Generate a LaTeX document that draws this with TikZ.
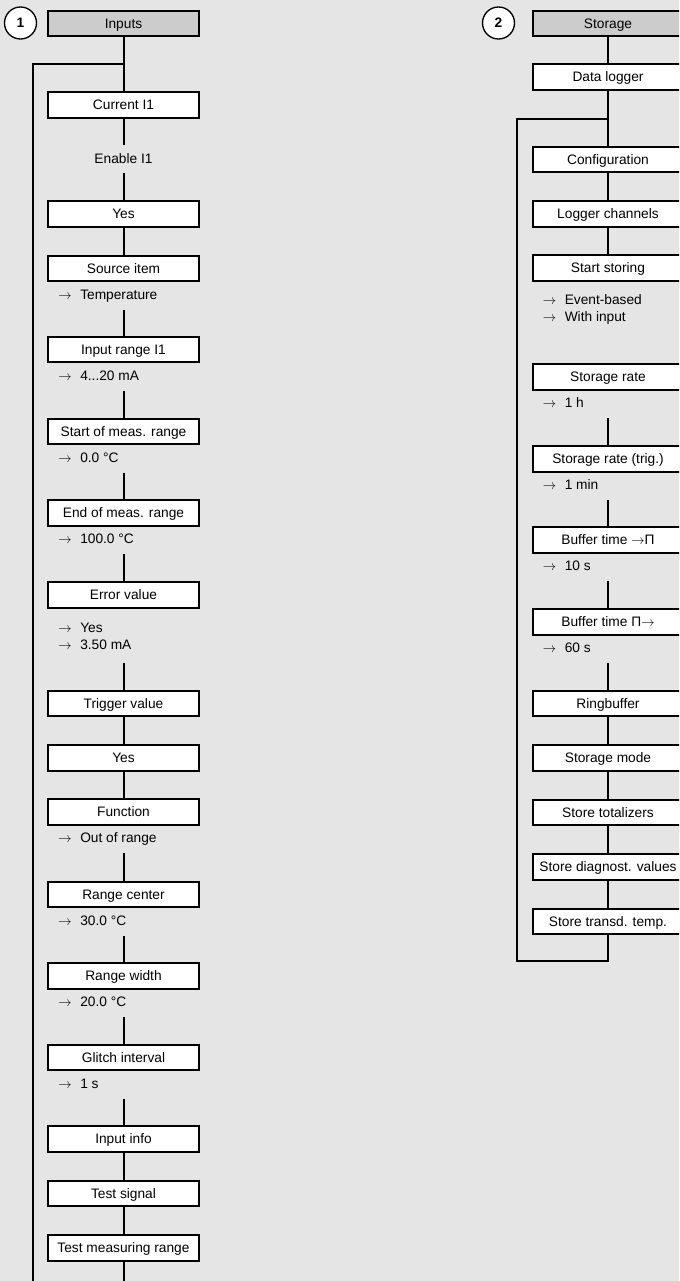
\documentclass[tikz,border=0pt]{standalone}
\usepackage{fontspec}
\setmainfont{Liberation Sans}
\definecolor{panel}{gray}{0.9}
\definecolor{head}{gray}{0.8}
\newcommand{\pick}[1]{$\rightarrow$\hspace{6.5pt}#1}

\begin{document}
\begin{tikzpicture}[x=0.75pt, y=-0.75pt,
  font=\fontsize{10.3}{12.75}\selectfont,
  menubox/.style={draw, line width=1.5pt, fill=white, minimum width=113.25pt, minimum height=19.1pt, inner sep=0pt, text height=7.4pt, text depth=0pt},
  headbox/.style={menubox, fill=head},
  numcirc/.style={draw, circle, line width=1pt, fill=white, minimum size=24pt, inner sep=0pt, font=\fontsize{10.3}{12}\selectfont\bfseries},
  plain/.style={minimum height=20.6pt, inner sep=0pt, text height=7.4pt, text depth=0pt},
  vals/.style={anchor=north west, xshift=8.25pt, minimum height=20.25pt, inner sep=0pt, align=left, text height=7.4pt, text depth=2.25pt},
  vals2/.style={anchor=north west, xshift=8.25pt, minimum height=40.5pt, inner sep=0pt, align=left},
  link/.style={line width=1.5pt}]
  \useasboundingbox (0,0) rectangle (679,1281);
  \clip (0,0) rectangle (679,1281);
  \fill[panel] (0,0) rectangle (679,1281);

  \node[numcirc] (n1) at (20.5,23) {1};
  \node[headbox] (inp) at (123.5,23.5) {Inputs};
  \node[menubox] (cur) at (123.5,105) {Current I1};
  \node[plain] (en) at (123.5,159) {Enable I1};
  \node[menubox] (yes1) at (123.5,214) {Yes};
  \node[menubox] (src) at (123.5,268.5) {Source item};
  \node[vals] (srcv) at (src.south west) {\pick{Temperature}};
  \node[menubox] (inr) at (123.5,349.5) {Input range I1};
  \node[vals] (inrv) at (inr.south west) {\pick{4...20 mA}};
  \node[menubox] (smr) at (123.5,431.5) {Start of meas. range};
  \node[vals] (smrv) at (smr.south west) {\pick{0.0 °C}};
  \node[menubox] (emr) at (123.5,513) {End of meas. range};
  \node[vals] (emrv) at (emr.south west) {\pick{100.0 °C}};
  \node[menubox] (err) at (123.5,595) {Error value};
  \node[vals2] (errv) at (err.south west) {\pick{Yes}\\\pick{3.50 mA}};
  \node[menubox] (trg) at (123.5,703.5) {Trigger value};
  \node[menubox] (yes2) at (123.5,758) {Yes};
  \node[menubox] (fun) at (123.5,812) {Function};
  \node[vals] (funv) at (fun.south west) {\pick{Out of range}};
  \node[menubox] (rce) at (123.5,894.5) {Range center};
  \node[vals] (rcev) at (rce.south west) {\pick{30.0 °C}};
  \node[menubox] (rwd) at (123.5,976) {Range width};
  \node[vals] (rwdv) at (rwd.south west) {\pick{20.0 °C}};
  \node[menubox] (gli) at (123.5,1057.5) {Glitch interval};
  \node[vals] (gliv) at (gli.south west) {\pick{1 s}};
  \node[menubox] (inf) at (123.5,1139) {Input info};
  \node[menubox] (tsig) at (123.5,1193.5) {Test signal};
  \node[menubox] (tmr) at (123.5,1248) {Test measuring range};
  \coordinate (jL) at (123.5,64);
  \coordinate (loopL) at (33,1290);
  \coordinate (endL) at (123.5,1290);

  \draw[link] (inp) -- (cur);
  \draw[link] (jL) -| (loopL);
  \draw[link] (tmr) -- (endL);
  \foreach \a/\b in {cur/en, en/yes1, yes1/src, trg/yes2, yes2/fun, inf/tsig, tsig/tmr}
    \draw[link] (\a) -- (\b);
  \foreach \a/\b/\c in {srcv/src/inr, inrv/inr/smr, smrv/smr/emr, emrv/emr/err, errv/err/trg,
                        funv/fun/rce, rcev/rce/rwd, rwdv/rwd/gli, gliv/gli/inf}
    \draw[link] (\a.south -| \b) -- (\c);

  \node[numcirc] (n2) at (498.5,23) {2};
  \node[headbox] (sto) at (608,23.5) {Storage};
  \node[menubox] (dlg) at (608,77) {Data logger};
  \node[menubox] (cfg) at (608,159.5) {Configuration};
  \node[menubox] (lch) at (608,214) {Logger channels};
  \node[menubox] (sst) at (608,268) {Start storing};
  \node[vals2] (sstv) at (sst.south west) {\pick{Event-based}\\\pick{With input}};
  \node[menubox] (srt) at (608,377) {Storage rate};
  \node[vals] (srtv) at (srt.south west) {\pick{1 h}};
  \node[menubox] (srtt) at (608,459) {Storage rate (trig.)};
  \node[vals] (srttv) at (srtt.south west) {\pick{1 min}};
  \node[menubox] (bf1) at (608,540) {Buffer time $\rightarrow$Π};
  \node[vals] (bf1v) at (bf1.south west) {\pick{10 s}};
  \node[menubox] (bf2) at (608,622) {Buffer time Π$\rightarrow$};
  \node[vals] (bf2v) at (bf2.south west) {\pick{60 s}};
  \node[menubox] (rng) at (608,703.5) {Ringbuffer};
  \node[menubox] (smd) at (608,758) {Storage mode};
  \node[menubox] (stot) at (608,812.5) {Store totalizers};
  \node[menubox] (sdia) at (608,867) {Store diagnost. values};
  \node[menubox] (stt) at (608,921.5) {Store transd. temp.};
  \coordinate (jR) at (608,119);
  \coordinate (loopR) at (517,961);

  \foreach \a/\b in {sto/dlg, dlg/cfg, cfg/lch, lch/sst, rng/smd, smd/stot, stot/sdia, sdia/stt}
    \draw[link] (\a) -- (\b);
  \foreach \a/\b/\c in {srtv/srt/srtt, srttv/srtt/bf1, bf1v/bf1/bf2, bf2v/bf2/rng}
    \draw[link] (\a.south -| \b) -- (\c);
  \draw[link] (stt) |- (loopR) |- (jR);
\end{tikzpicture}
\end{document}
